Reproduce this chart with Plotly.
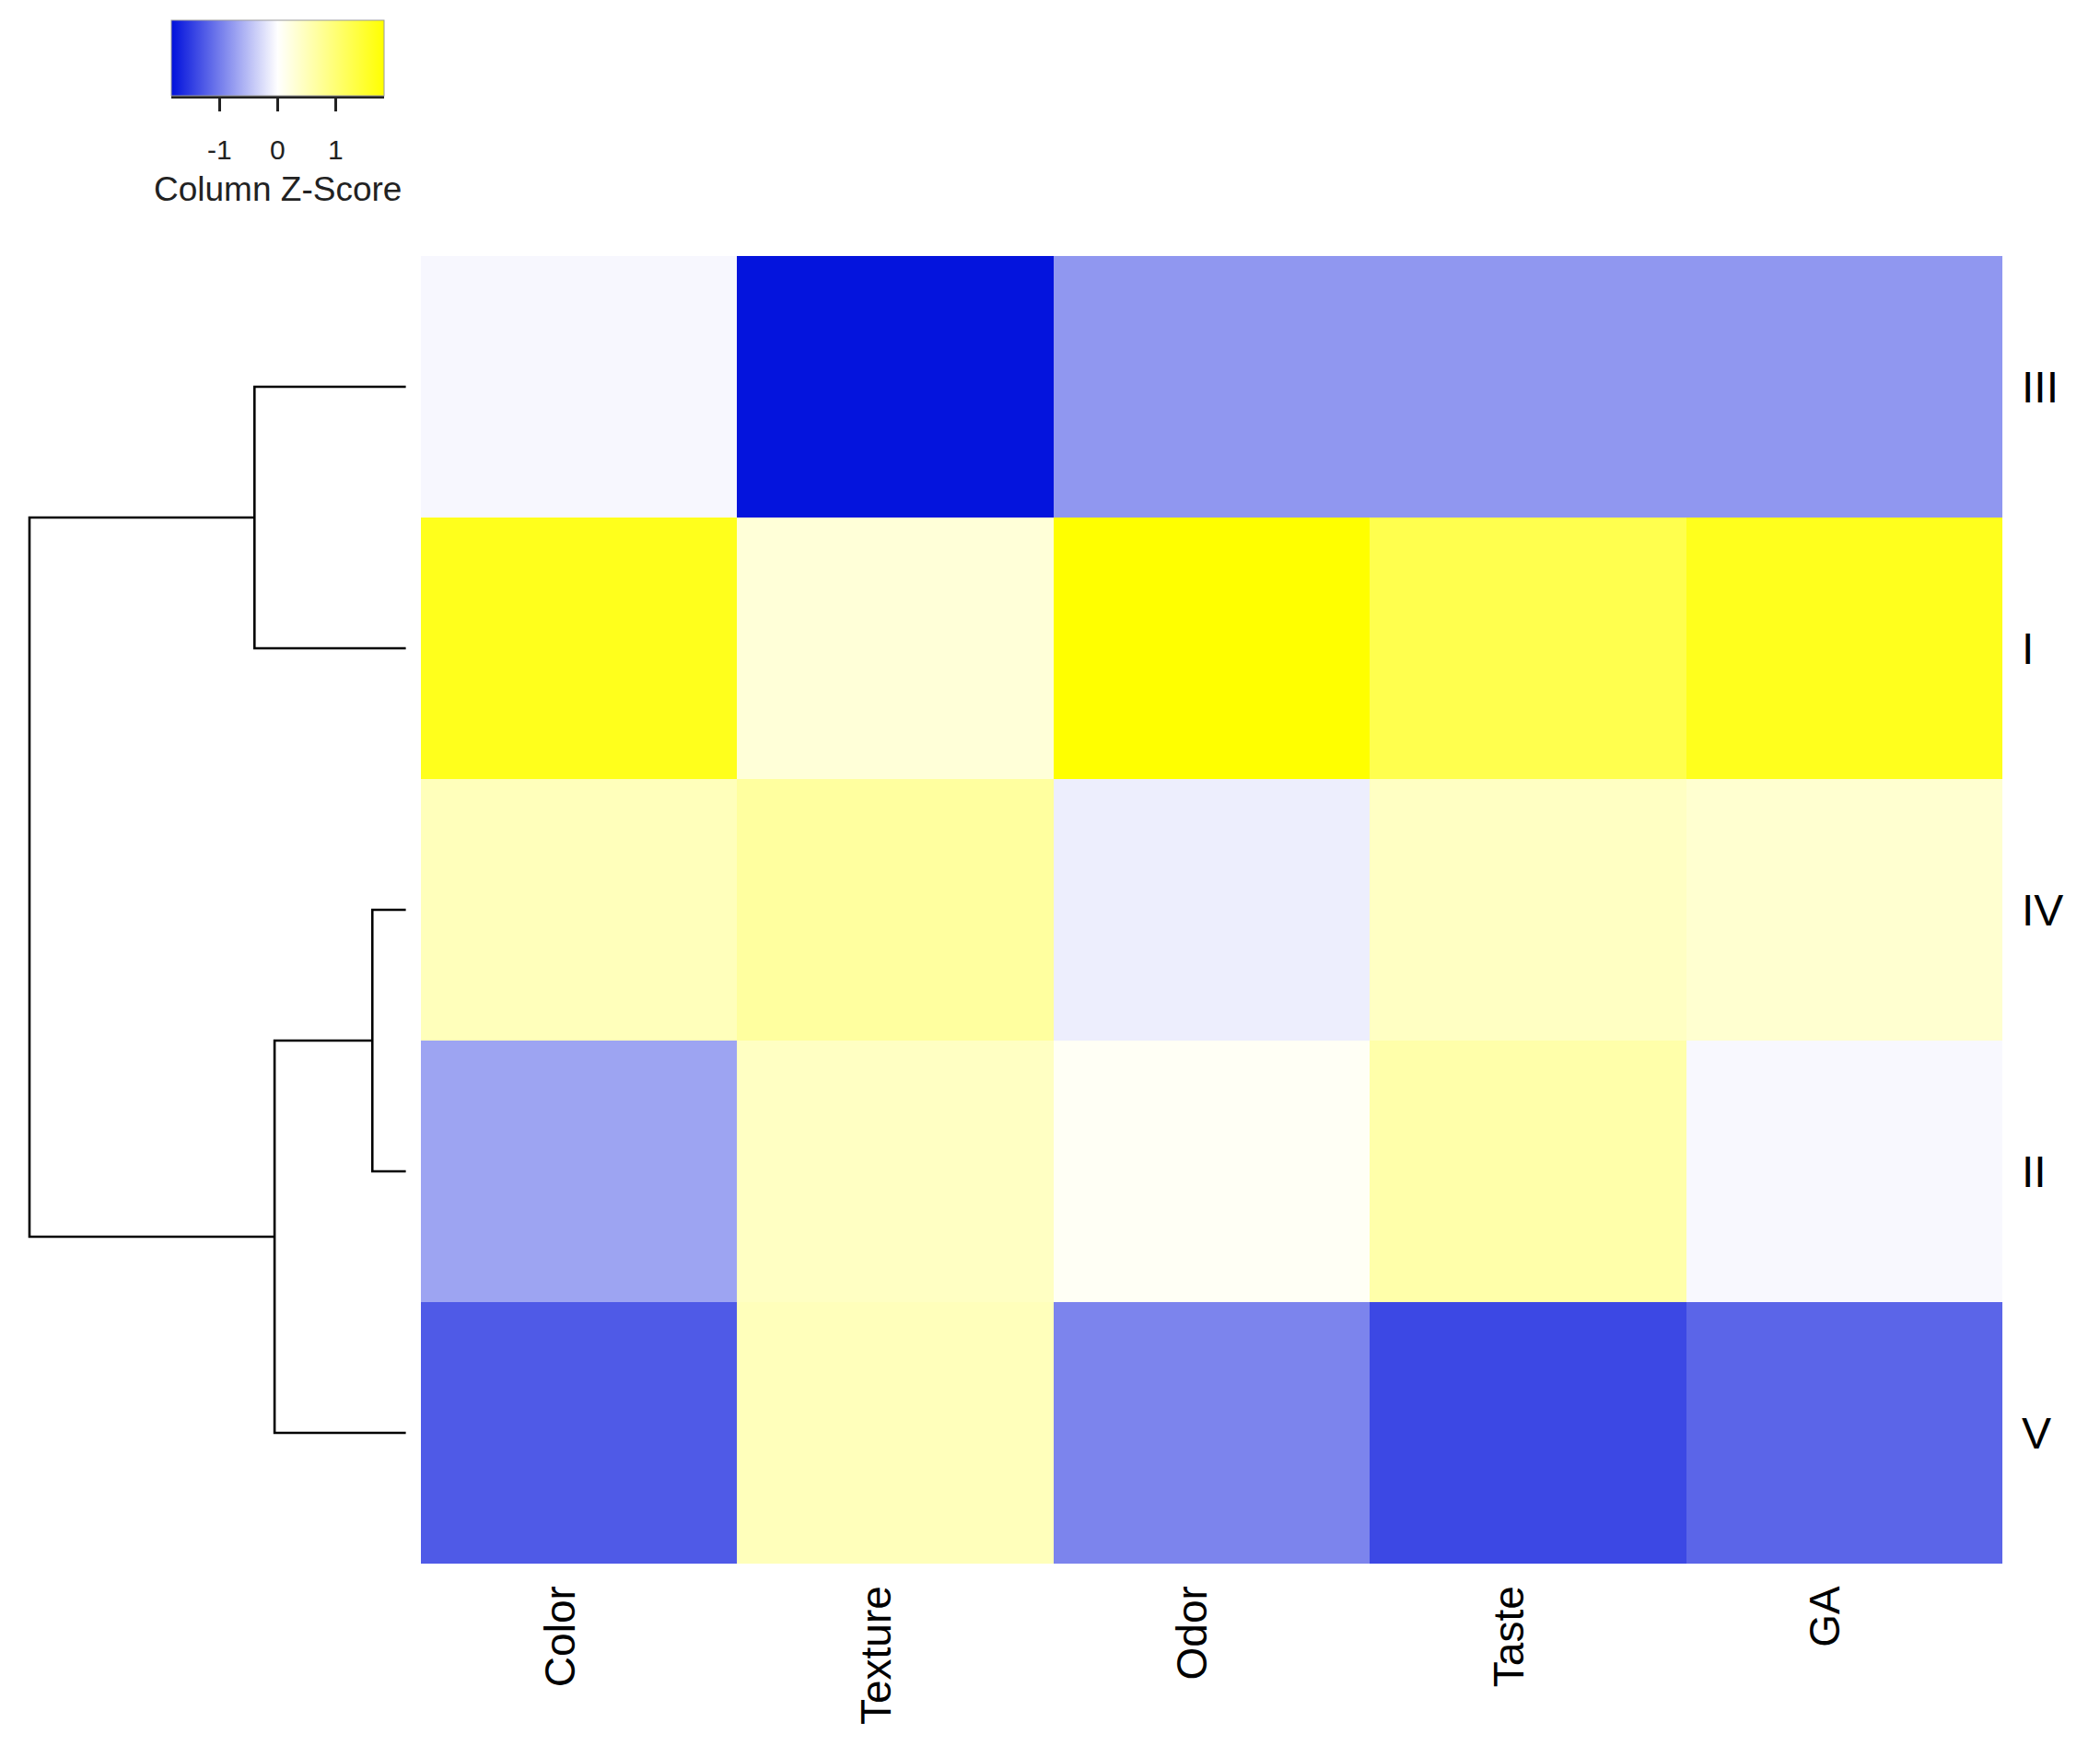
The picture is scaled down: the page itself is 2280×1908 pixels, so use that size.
import plotly.graph_objects as go

# ---- data ----
columns = ["Color", "Texture", "Odor", "Taste", "GA"]
rows = ["III", "I", "IV", "II", "V"]          # top to bottom, dendrogram order
z_III = [-0.06, -1.80, -0.80, -0.80, -0.80]
z_I   = [1.63, 0.28, 1.85, 1.27, 1.62]
z_IV  = [0.49, 0.69, -0.13, 0.43, 0.34]
z_II  = [-0.70, 0.43, 0.07, 0.61, -0.05]
z_V   = [-1.26, 0.49, -0.94, -1.40, -1.18]
z = [z_III, z_I, z_IV, z_II, z_V]

# row dendrogram merges: (left, right, height)
merges = [
    ("IV", "II", 0.25),
    ("III", "I", 1.13),
    ("IV+II", "V", 0.98),
    ("III+I", "IV+II+V", 2.81),
]
key_ticks = [-1, 0, 1]
zlim = 1.83

# page has an 8px body margin; positions below are in page pixels
OFF = 8
W, H = 2280 - 2 * OFF, 1908 - 2 * OFF


def px(xp):
    return (xp - OFF) / W


def py(yp):
    return 1 - (yp - OFF) / H


hm_left, hm_right, hm_top, hm_bottom = 457, 2174, 278, 1698
x_dom = [px(hm_left), px(hm_right)]
y_dom = [py(hm_bottom), py(hm_top)]

key_left, key_right, key_top, key_bottom = 186, 417, 22, 104
key_len = key_right - key_left

FONT = "Liberation Sans, Arial"

fig = go.Figure()
fig.add_trace(go.Heatmap(
    z=z, x=list(range(len(columns))), y=list(range(len(rows))),
    colorscale=[[0, "#0010DC"], [0.5, "#FFFFFF"], [1, "#FFFF00"]],
    zmin=-zlim, zmax=zlim, xgap=0, ygap=0,
    xaxis="x", yaxis="y",
    colorbar=dict(
        orientation="h", x=px(key_left), xanchor="left", y=py(key_top), yanchor="top",
        len=key_len, lenmode="pixels", thickness=key_bottom - key_top, xpad=0, ypad=0,
        outlinewidth=1, outlinecolor="#9a9a9a",
        tickvals=key_ticks, showticklabels=False,
        ticks="outside", ticklen=17, tickwidth=3, tickcolor="#222",
    ),
))

# ---- dendrogram ----
pos = {r: (i, 0.0) for i, r in enumerate(rows)}  # name -> (y, height)
xs, ys = [], []
for a, b, h in merges:
    ya, ha = pos[a]
    yb, hb = pos[b]
    xs += [ha, h, h, hb, None]
    ys += [ya, ya, yb, yb, None]
    pos[a + "+" + b] = ((ya + yb) / 2, h)
fig.add_trace(go.Scatter(
    x=xs, y=ys, mode="lines", line=dict(color="black", width=2.6),
    xaxis="x2", yaxis="y2", hoverinfo="skip", showlegend=False,
))

root_h = merges[-1][2]
root_px, leaf_px = 32, 440.6
k = (leaf_px - root_px) / root_h
dend_range = [root_h + (root_px - OFF) / k, -(hm_left - leaf_px) / k]

# colour key tick labels and title
annotations = []
for t in key_ticks:
    xk = key_left + (t + zlim) / (2 * zlim) * key_len
    annotations.append(dict(
        x=px(xk), y=py(162), xref="paper", yref="paper", text=str(t),
        showarrow=False, xanchor="center", yanchor="middle",
        font=dict(family=FONT, size=30, color="#222")))
annotations.append(dict(
    x=px((key_left + key_right) / 2), y=py(206), xref="paper", yref="paper",
    text="Column Z-Score", showarrow=False, xanchor="center", yanchor="middle",
    font=dict(family=FONT, size=37, color="#222")))

fig.update_layout(
    width=W, height=H, margin=dict(l=0, r=0, t=0, b=0),
    paper_bgcolor="white", plot_bgcolor="white", showlegend=False,
    font=dict(family=FONT, color="black"),
    xaxis=dict(domain=x_dom, range=[-0.5, len(columns) - 0.5],
               tickvals=list(range(len(columns))), ticktext=columns,
               tickangle=-90, ticks="", showgrid=False, zeroline=False,
               showline=False, ticklabelstandoff=14, ticklabelshift=-20,
               tickfont=dict(size=46, family=FONT)),
    yaxis=dict(domain=y_dom, range=[len(rows) - 0.5, -0.5],
               tickvals=list(range(len(rows))), ticktext=rows, side="right",
               ticks="", showgrid=False, zeroline=False, showline=False,
               ticklabelstandoff=20,
               tickfont=dict(size=48, family=FONT)),
    xaxis2=dict(domain=[0, px(hm_left)], range=dend_range, visible=False),
    yaxis2=dict(domain=y_dom, range=[len(rows) - 0.5, -0.5], visible=False),
    annotations=annotations,
    shapes=[dict(type="line", xref="paper", yref="paper",
                 x0=px(key_left), x1=px(key_right), y0=py(key_bottom + 1), y1=py(key_bottom + 1),
                 line=dict(color="#222", width=4))],
)

fig.write_html("out.html")
